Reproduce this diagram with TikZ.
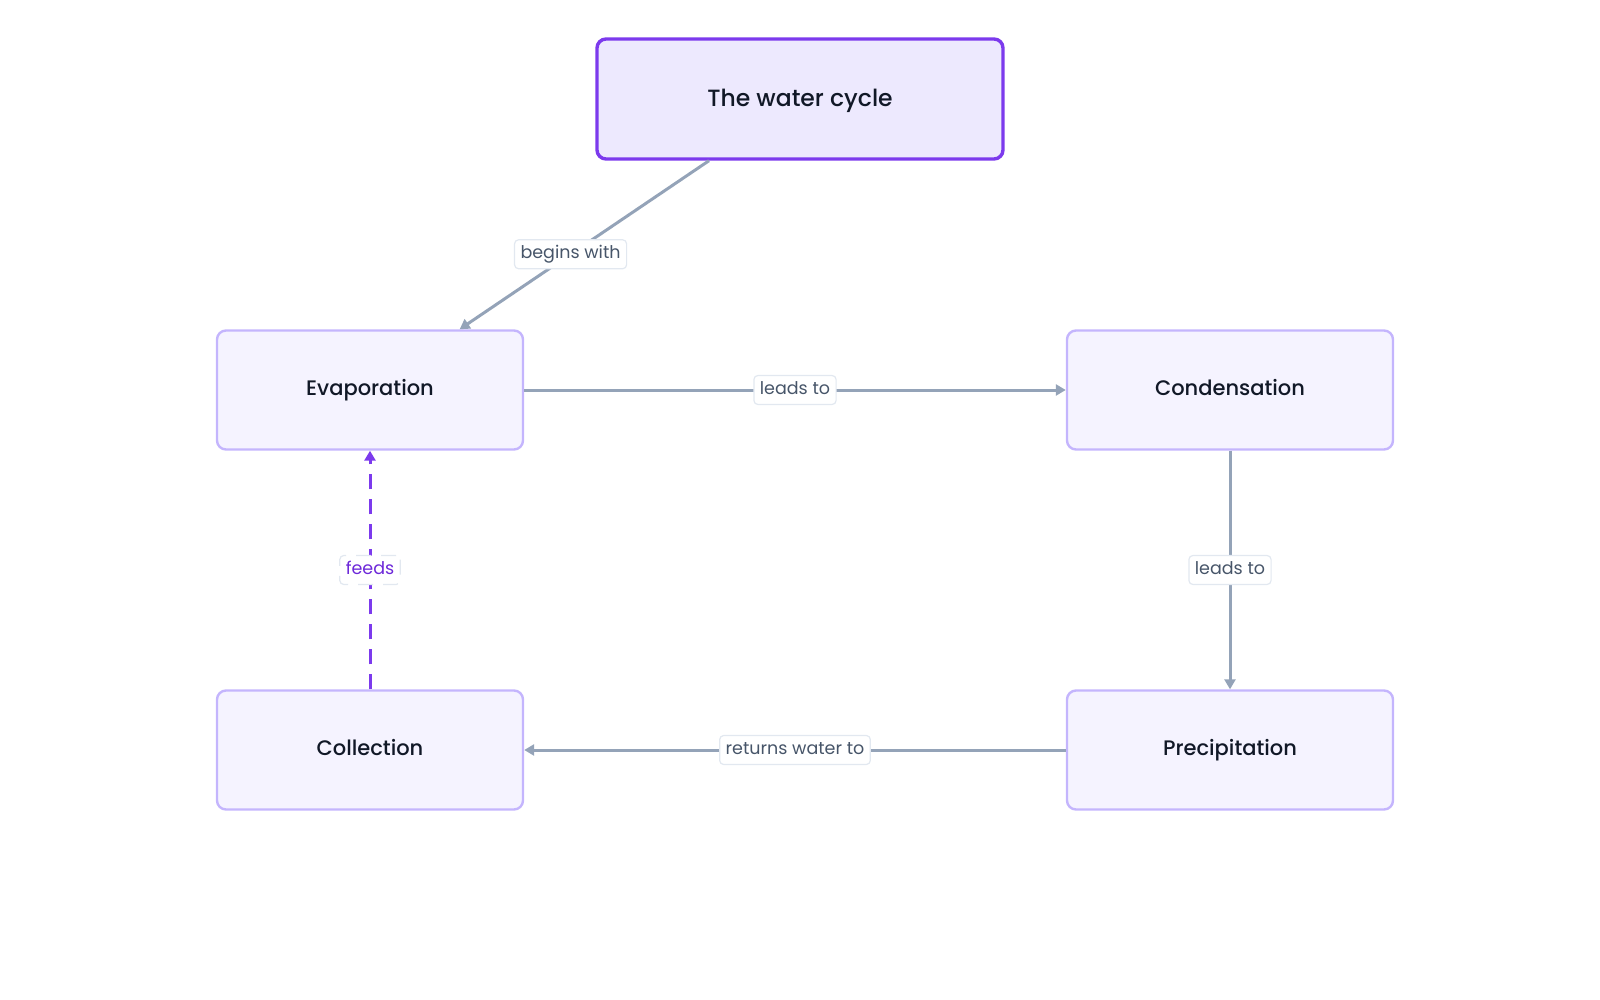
\documentclass[tikz,border=0pt]{standalone}
\usepackage{fontspec}
\setmainfont{Poppins}
\newfontfamily\medfont{Poppins Medium}
\usetikzlibrary{arrows.meta}
\definecolor{edgegray}{HTML}{94A3B8}
\definecolor{purpleA}{HTML}{7C3AED}
\definecolor{purpleB}{HTML}{C4B5FD}
\definecolor{fillA}{HTML}{EDE9FE}
\definecolor{fillB}{HTML}{F5F3FF}
\definecolor{labelbd}{HTML}{E2E8F0}
\definecolor{labeltxt}{HTML}{475569}
\definecolor{nodetxt}{HTML}{111827}
\definecolor{feedtxt}{HTML}{6D28D9}
\tikzset{
  box/.style={draw=purpleB, line width=2.4pt, fill=fillB, rounded corners=9pt,
    minimum height=119pt, text=nodetxt, font=\medfont\fontsize{21}{25}\selectfont, inner sep=0pt,
    text height=11pt, text depth=0pt},
  mainbox/.style={box, draw=purpleA, line width=3.4pt, fill=fillA, minimum width=406pt, minimum height=120pt,
    font=\medfont\fontsize{23.5}{28}\selectfont, text height=14.5pt},
  conn/.style={draw=edgegray, line width=3pt, -{Triangle[length=10pt,width=11pt]}},
  feedconn/.style={draw=purpleA, line width=3pt, dash pattern=on 15pt off 10pt, -{Triangle[length=10pt,width=11pt]}},
  lbl/.style={fill=white, draw=labelbd, line width=1.2pt, rounded corners=4pt, text=labeltxt,
    font=\fontsize{17.5}{20}\selectfont, inner xsep=6pt, inner ysep=6pt,
    text height=13pt, text depth=4pt},
}
\begin{document}
\begin{tikzpicture}[x=1pt,y=-1pt]
\useasboundingbox (0,0) rectangle (1600,1000);
\node[mainbox] (top) at (800,99) {The water cycle};
\node[box, minimum width=306pt] (evap) at (370,390) {Evaporation};
\node[box, minimum width=326pt] (cond) at (1230,390) {Condensation};
\node[box, minimum width=326pt] (prec) at (1230,750) {Precipitation};
\node[box, minimum width=306pt] (coll) at (370,750) {Collection};
\draw[conn] (top) -- node[lbl, pos=0.555] (l1) {begins with} (evap);
\draw[conn] (evap) -- node[lbl] (l2) {leads to} (cond);
\draw[conn] (cond) -- node[lbl] (l3) {leads to} (prec);
\draw[conn] (prec) -- node[lbl] (l4) {returns water to} (coll);
\draw[feedconn] (coll) -- node[lbl, text=feedtxt] (l5) {feeds} (evap);
\end{tikzpicture}
\end{document}
